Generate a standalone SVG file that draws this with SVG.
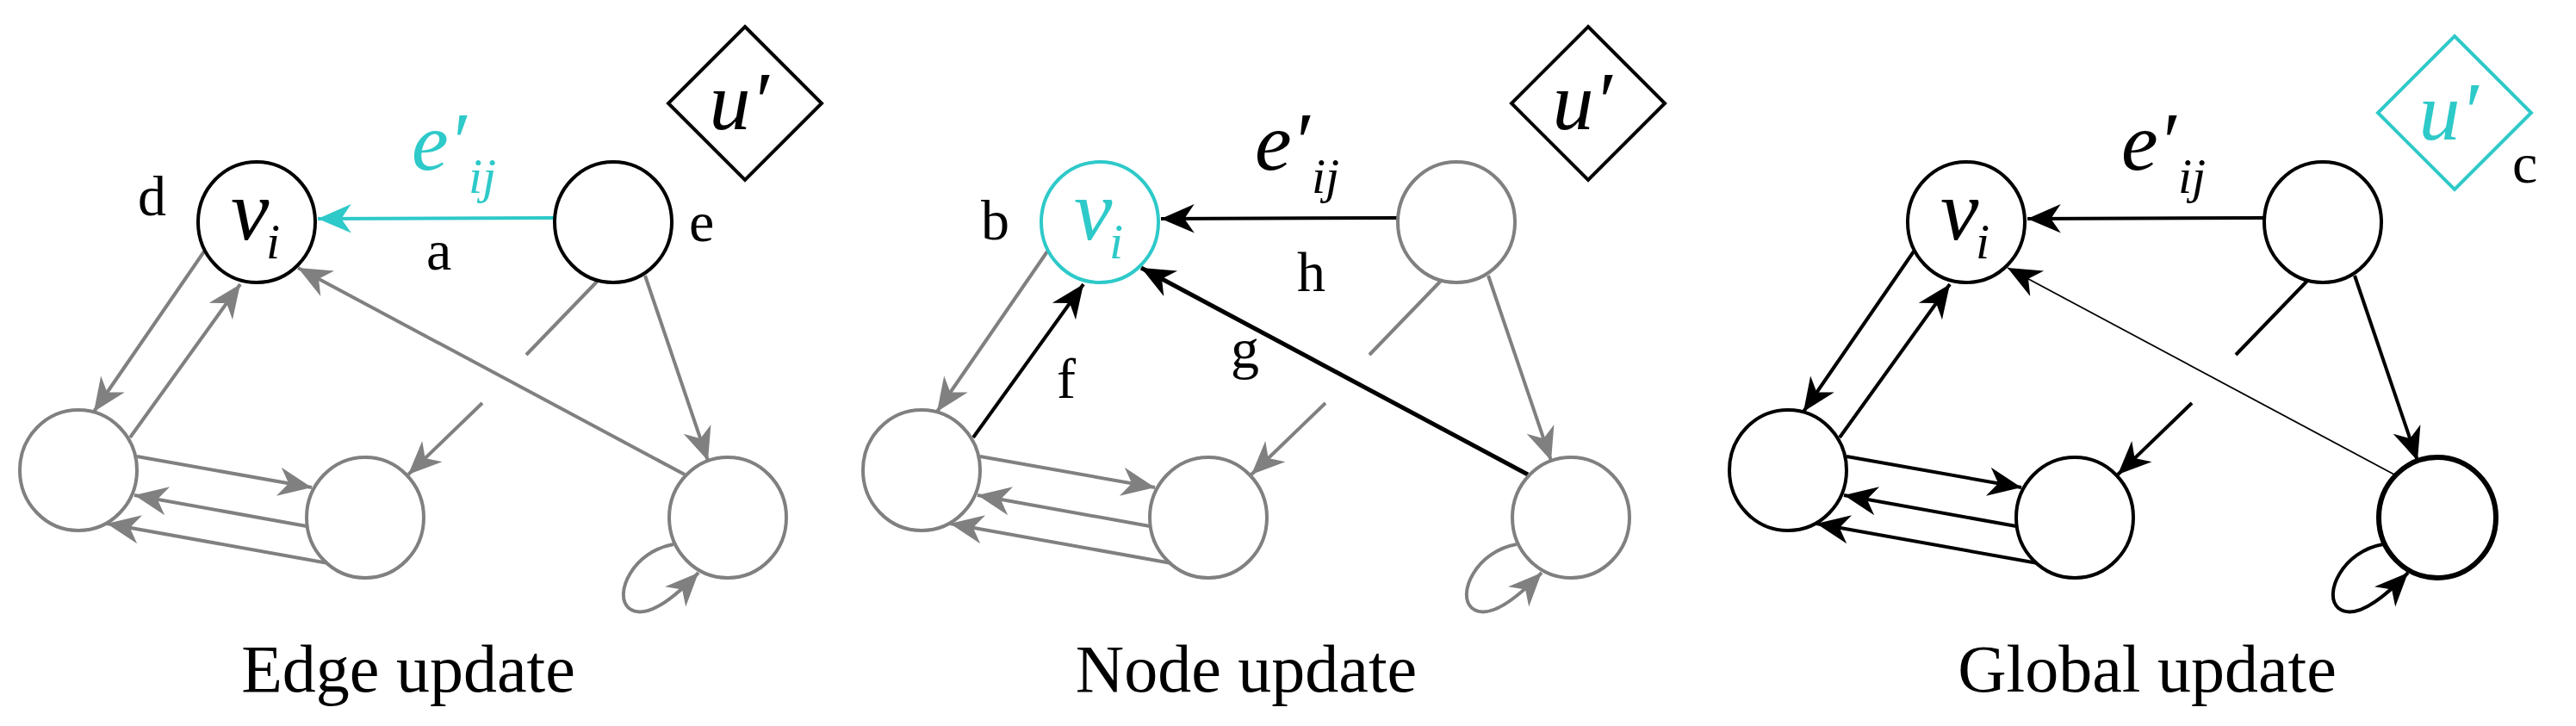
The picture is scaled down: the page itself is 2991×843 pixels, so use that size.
<svg xmlns="http://www.w3.org/2000/svg" width="2991" height="843" viewBox="0 0 2991 843">
<defs>
<style>
.n{fill:#fff;stroke-width:4}
.g{stroke:#808080}
.k{stroke:#000}
.c{stroke:#2ec9c9}
.e{fill:none;stroke-width:4}
.t{font-family:"Liberation Serif",serif}
.it{font-family:"Liberation Serif",serif;font-style:italic}
.lbl{font-size:66px}
.ttl{font-size:78px;text-anchor:middle}
</style>
<marker id="ag" markerUnits="userSpaceOnUse" markerWidth="44" markerHeight="44" viewBox="-40 -20 42 40" refX="0" refY="0" orient="auto"><path d="M0,0 L-37,-16 L-26,0 L-37,16 Z" fill="#808080"/></marker>
<marker id="ak" markerUnits="userSpaceOnUse" markerWidth="44" markerHeight="44" viewBox="-40 -20 42 40" refX="0" refY="0" orient="auto"><path d="M0,0 L-37,-16 L-26,0 L-37,16 Z" fill="#000"/></marker>
<marker id="ac" markerUnits="userSpaceOnUse" markerWidth="44" markerHeight="44" viewBox="-40 -20 42 40" refX="0" refY="0" orient="auto"><path d="M0,0 L-37,-16 L-26,0 L-37,16 Z" fill="#2ec9c9"/></marker>
</defs>
<rect width="2991" height="843" fill="#fff"/>

<!-- Panel 1: Edge update -->
<g id="panel1">
<g id="p1-connectors">
<line class="e c" x1="644" y1="253" x2="369" y2="254" marker-end="url(#ac)"/>
<line class="e g" x1="237" y1="292" x2="109" y2="478" marker-end="url(#ag)"/>
<line class="e g" x1="151" y1="508" x2="279" y2="330" marker-end="url(#ag)"/>
<line class="e g" x1="795" y1="551" x2="346" y2="311" marker-end="url(#ag)"/>
<line class="e g" x1="749" y1="320" x2="822" y2="535" marker-end="url(#ag)"/>
<line class="e g" x1="696" y1="324" x2="611" y2="412"/>
<line class="e g" x1="560" y1="468" x2="474" y2="551" marker-end="url(#ag)"/>
<line class="e g" x1="159" y1="530" x2="362" y2="566" marker-end="url(#ag)"/>
<line class="e g" x1="356" y1="611" x2="156" y2="575" marker-end="url(#ag)"/>
<line class="e g" x1="381" y1="654" x2="124" y2="608" marker-end="url(#ag)"/>
<path class="e g" d="M782,632 C735,640 712,690 730,706 C750,722 785,692 811,665" marker-end="url(#ag)"/>
</g>
<g id="p1-vi"><ellipse class="n k" cx="298" cy="258" rx="68" ry="70"/><text class="it" x="268" y="278" font-size="100">v</text><text class="it" x="309" y="300" font-size="58">i</text></g>
<g id="p1-tr"><ellipse class="n k" cx="712" cy="258" rx="68" ry="70"/></g>
<g id="p1-l"><ellipse class="n g" cx="91" cy="546" rx="68" ry="70"/></g>
<g id="p1-m"><ellipse class="n g" cx="424" cy="601" rx="68" ry="70"/></g>
<g id="p1-br"><ellipse class="n g" cx="845" cy="601" rx="68" ry="70"/></g>
<g id="p1-u"><path d="M865,31 L954,120 L865,209 L776,120 Z" fill="#fff" stroke="#000" stroke-width="4"/><text class="it" x="858" y="150" font-size="96" text-anchor="middle">u′</text></g>
<g id="p1-labels">
<text class="it" x="478" y="197" font-size="96" fill="#2ec9c9">e′</text>
<text class="it" x="544" y="224" font-size="58" fill="#2ec9c9">ij</text>
<text class="t lbl" x="160" y="250">d</text>
<text class="t lbl" x="495" y="313">a</text>
<text class="t lbl" x="800" y="280">e</text>
<text class="t ttl" x="474" y="803">Edge update</text>
</g>
</g>

<!-- Panel 2: Node update -->
<g id="panel2" transform="translate(979,0)">
<g id="p2-connectors">
<line class="e k" x1="644" y1="253" x2="369" y2="254" marker-end="url(#ak)"/>
<line class="e g" x1="237" y1="292" x2="109" y2="478" marker-end="url(#ag)"/>
<line class="e k" x1="151" y1="508" x2="279" y2="330" marker-end="url(#ak)"/>
<line class="k" stroke-width="5" x1="795" y1="551" x2="346" y2="311" marker-end="url(#ak)"/>
<line class="e g" x1="749" y1="320" x2="822" y2="535" marker-end="url(#ag)"/>
<line class="e g" x1="696" y1="324" x2="611" y2="412"/>
<line class="e g" x1="560" y1="468" x2="474" y2="551" marker-end="url(#ag)"/>
<line class="e g" x1="159" y1="530" x2="362" y2="566" marker-end="url(#ag)"/>
<line class="e g" x1="356" y1="611" x2="156" y2="575" marker-end="url(#ag)"/>
<line class="e g" x1="381" y1="654" x2="124" y2="608" marker-end="url(#ag)"/>
<path class="e g" d="M782,632 C735,640 712,690 730,706 C750,722 785,692 811,665" marker-end="url(#ag)"/>
</g>
<g id="p2-vi"><ellipse class="n c" cx="298" cy="258" rx="68" ry="70"/><text class="it" x="268" y="278" font-size="100" fill="#2ec9c9">v</text><text class="it" x="309" y="300" font-size="58" fill="#2ec9c9">i</text></g>
<g id="p2-tr"><ellipse class="n g" cx="712" cy="258" rx="68" ry="70"/></g>
<g id="p2-l"><ellipse class="n g" cx="91" cy="546" rx="68" ry="70"/></g>
<g id="p2-m"><ellipse class="n g" cx="424" cy="601" rx="68" ry="70"/></g>
<g id="p2-br"><ellipse class="n g" cx="845" cy="601" rx="68" ry="70"/></g>
<g id="p2-u"><path d="M865,31 L954,120 L865,209 L776,120 Z" fill="#fff" stroke="#000" stroke-width="4"/><text class="it" x="858" y="150" font-size="96" text-anchor="middle">u′</text></g>
<g id="p2-labels">
<text class="it" x="478" y="197" font-size="96">e′</text>
<text class="it" x="544" y="224" font-size="58">ij</text>
<text class="t lbl" x="160" y="278">b</text>
<text class="t lbl" x="527" y="338">h</text>
<text class="t lbl" x="450" y="427">g</text>
<text class="t lbl" x="248" y="462">f</text>
<text class="t ttl" x="468" y="803">Node update</text>
</g>
</g>

<!-- Panel 3: Global update -->
<g id="panel3" transform="translate(1985,0)">
<g id="p3-connectors">
<line class="e k" x1="644" y1="253" x2="369" y2="254" marker-end="url(#ak)"/>
<line class="e k" x1="237" y1="292" x2="109" y2="478" marker-end="url(#ak)"/>
<line class="e k" x1="151" y1="508" x2="279" y2="330" marker-end="url(#ak)"/>
<line class="k" stroke-width="1.8" x1="795" y1="551" x2="346" y2="311" marker-end="url(#ak)"/>
<line class="e k" x1="749" y1="320" x2="822" y2="535" marker-end="url(#ak)"/>
<line class="e k" x1="696" y1="324" x2="611" y2="412"/>
<line class="e k" x1="560" y1="468" x2="474" y2="551" marker-end="url(#ak)"/>
<line class="e k" x1="159" y1="530" x2="362" y2="566" marker-end="url(#ak)"/>
<line class="e k" x1="356" y1="611" x2="156" y2="575" marker-end="url(#ak)"/>
<line class="e k" x1="381" y1="654" x2="124" y2="608" marker-end="url(#ak)"/>
<path class="e k" d="M782,632 C735,640 712,690 730,706 C750,722 785,692 811,665" marker-end="url(#ak)"/>
</g>
<g id="p3-vi"><ellipse class="n k" cx="298" cy="258" rx="68" ry="70"/><text class="it" x="268" y="278" font-size="100">v</text><text class="it" x="309" y="300" font-size="58">i</text></g>
<g id="p3-tr"><ellipse class="n k" cx="712" cy="258" rx="68" ry="70"/></g>
<g id="p3-l"><ellipse class="n k" cx="91" cy="546" rx="68" ry="70"/></g>
<g id="p3-m"><ellipse class="n k" cx="424" cy="601" rx="68" ry="70"/></g>
<g id="p3-br"><ellipse class="k" fill="#fff" stroke-width="6" cx="845" cy="601" rx="68" ry="70"/></g>
<g id="p3-u"><path d="M865,42 L954,131 L865,220 L776,131 Z" fill="#fff" stroke="#2ec9c9" stroke-width="4"/><text class="it" x="858" y="162" font-size="96" text-anchor="middle" fill="#2ec9c9">u′</text></g>
<g id="p3-labels">
<text class="it" x="478" y="197" font-size="96">e′</text>
<text class="it" x="544" y="224" font-size="58">ij</text>
<text class="t lbl" x="932" y="212">c</text>
<text class="t ttl" x="508" y="803">Global update</text>
</g>
</g>
</svg>
